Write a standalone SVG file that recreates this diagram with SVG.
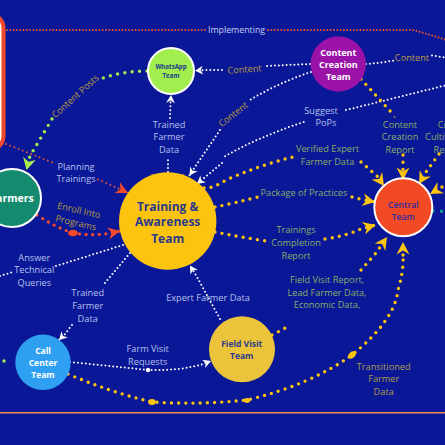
<svg xmlns="http://www.w3.org/2000/svg" width="445" height="445" viewBox="0 0 445 445">
<style>
text{font-family:"Open Sans","Noto Sans","Liberation Sans",sans-serif;text-anchor:middle;dominant-baseline:central;font-size:9.2px}
.lw{fill:#b7c0ee}.lg{fill:#8aad68}.lo{fill:#b89c3e}.lt{fill:#ad9e48}
.n{font-weight:700}
.c{fill:none;stroke-linecap:round}
.w{stroke:#fff;stroke-width:2;stroke-dasharray:0 3.9}
.y{stroke:#fcc40f;stroke-width:3.4;stroke-dasharray:0 7.2}
.rb{stroke:#f4492a;stroke-width:3.3;stroke-dasharray:0 6.6}
.o{stroke:#f4592a;stroke-width:1.9;stroke-dasharray:0 3.3}
.o2{stroke-dasharray:0 4.5}
.g{stroke:#a2ee4e;stroke-width:3.4;stroke-dasharray:0 7.4}
.t{stroke:#0fa28a;stroke-width:3.4;stroke-dasharray:0 8.5}
.mw{marker-end:url(#aw)}.my{marker-end:url(#ay)}.mr{marker-end:url(#ar)}.mg{marker-end:url(#ag)}
</style>
<defs>
<marker id="aw" viewBox="-9 -5 10 10" refX="0" refY="0" markerWidth="10" markerHeight="10" markerUnits="userSpaceOnUse" orient="auto"><path d="M0 0L-8 -4.4L-5.6 0L-8 4.4Z" fill="#fff"/></marker>
<marker id="ay" viewBox="-13 -8 14 16" refX="0" refY="0" markerWidth="14" markerHeight="16" markerUnits="userSpaceOnUse" orient="auto"><path d="M0 0L-12.5 -6.5L-8.5 0L-12.5 6.5Z" fill="#fcc40f"/></marker>
<marker id="ar" viewBox="-13 -8 14 16" refX="0" refY="0" markerWidth="14" markerHeight="16" markerUnits="userSpaceOnUse" orient="auto"><path d="M0 0L-12 -6L-8.5 0L-12 6Z" fill="#f4492a"/></marker>
<marker id="ag" viewBox="-13 -8 14 16" refX="0" refY="0" markerWidth="14" markerHeight="16" markerUnits="userSpaceOnUse" orient="auto"><path d="M0 0L-12 -6.5L-8.5 0L-12 6.5Z" fill="#a2ee4e"/></marker>
</defs>
<rect width="445" height="445" fill="#0a1796"/>
<rect id="panel" x="-120" y="14" width="123.500" height="136" rx="14" fill="#fff" stroke="#f4492a" stroke-width="4"/>
<line x1="0" y1="412.800" x2="445" y2="412.800" stroke="#ee8a4e" stroke-width="1.6"/>
<g id="connectors">
<path class="c o" d="M7 30H207"/>
<path class="c o" d="M268 30H414L445 39.500"/>
<path class="c w" d="M310 64L265 66"/>
<path class="c w mw" d="M222 70H205L195 70.800"/>
<path class="c w" d="M366 64Q380 63 394 60.500"/>
<path class="c w" d="M432 55.500L445 57.500"/>
<path class="c w" d="M311 72Q278 83 250 100"/>
<path class="c w mw" d="M220 130L195 167L189.500 175.500"/>
<path class="c w" d="M346 110L445 85.500"/>
<path class="c w" d="M303.700 122Q258 137 222 158"/>
<path class="c w mw" d="M222 163L203 179L197 184"/>
<path class="c w" d="M168 172V157"/>
<path class="c w mw" d="M170 118L170.500 103L171 95"/>
<path class="c g" d="M147 71Q124 71 103 78"/>
<path class="c g mg" d="M52 119L30 156L26.500 170"/>
<path class="c o o2" d="M6 144L54 163"/>
<path class="c o o2 mr" d="M98 179.500L122 190L128 193"/>
<path class="c rb" d="M37 215Q55 227 73 233"/>
<path class="c rb mr" d="M73 233Q90 236 108 233.500L120 231"/>
<ellipse cx="73" cy="233" rx="5" ry="3.200" fill="#f4492a"/>
<path class="c w" d="M0 276L13 272"/>
<path class="c w" d="M56 266L123 245"/>
<path class="c w" d="M130 253L104 284"/>
<path class="c w mw" d="M72 325L65 334L59 340"/>
<path class="c w mw" d="M220 319L197 277L190 265.500"/>
<path class="c w mw" d="M70 362Q110 366 148 370Q180 371 203 364L211 361"/>
<circle cx="148" cy="370" r="2.200" fill="#fff"/>
<path class="c y" d="M204 188Q212 189 226 180Q260 165 293 157"/>
<path class="c y my" d="M361 162L377 176L384 186"/>
<path class="c y" d="M215 207Q235 203 258 197"/>
<path class="c y my" d="M352 197L360 199L375 202"/>
<path class="c y" d="M215 232Q240 237 266 241"/>
<path class="c y my" d="M325 239Q345 236 361 229L375.500 225"/>
<path class="c y" d="M272 335L291 325"/>
<path class="c y my" d="M361 270L376 253L387 237"/>
<path class="c y" d="M68 374Q110 392 152 402Q200 405 247 400Q310 385 352 355Q395 320 398 290Q404 270 403 255"/>
<path class="c y my" d="M403 255V250L403 242"/>
<ellipse cx="152" cy="402" rx="3.800" ry="3" fill="#fcc40f"/>
<ellipse cx="247" cy="400.500" rx="3.200" ry="2.400" fill="#fcc40f"/>
<ellipse cx="352" cy="355" rx="4" ry="3" fill="#fcc40f" transform="rotate(-40 352 355)"/>
<path class="c y" d="M361 79L391 112"/>
<circle cx="394.500" cy="117" r="0.800" fill="#fcc40f"/>
<path class="c y my" d="M403 155V162.500L403 180"/>
<path class="c y my" d="M439 154L426 172L419 184"/>
<path class="c y my" d="M442 187L430 194"/>
<path class="c t" d="M433 210.700L445 211.500"/>
<path class="c g" d="M4 361L11 362"/>
</g>
<g id="labels">
<text class="lw" x="169" y="124">Trained</text><text class="lw" x="169" y="136.800">Farmer</text><text class="lw" x="169" y="149.500">Data</text>
<text class="lw" x="76" y="166">Planning</text><text class="lw" x="76" y="178.500">Trainings</text>
<text class="lo" transform="translate(79 210) rotate(13)">Enroll Into</text><text class="lo" transform="translate(76 222.500) rotate(13)">Programs</text>
<text class="lo" transform="translate(75 96) rotate(-42)">Content Posts</text>
<text class="lo" transform="translate(244.500 69) rotate(-4)">Content</text>
<text class="lo" transform="translate(233 114) rotate(-38)">Content</text>
<text class="lo" x="412" y="57.700">Content</text>
<text class="lw" x="321" y="110">Suggest</text><text class="lw" x="326" y="122.300">PoPs</text>
<text class="lg" x="327.500" y="148">Verified Expert</text><text class="lg" x="327.500" y="161">Farmer Data</text>
<text class="lg" x="304" y="192">Package of Practices</text>
<text class="lg" x="400" y="124">Content</text><text class="lg" x="400" y="136.500">Creation</text><text class="lg" x="400" y="149">Report</text>
<text class="lg" x="448" y="124">Crop</text><text class="lg" x="448" y="136.500">Cultivation</text><text class="lg" x="448" y="149">Report</text>
<text class="lg" x="296" y="229.700">Trainings</text><text class="lg" x="296" y="242.300">Completion</text><text class="lg" x="296" y="255">Report</text>
<text class="lg" x="327" y="279.300">Field Visit Report,</text><text class="lg" x="327" y="292">Lead Farmer Data,</text><text class="lg" x="327" y="304.500">Economic Data,</text>
<text class="lt" x="383.700" y="366">Transitioned</text><text class="lt" x="383.700" y="378.700">Farmer</text><text class="lt" x="383.700" y="391.500">Data</text>
<text class="lw" x="208" y="297">Expert Farmer Data</text>
<text class="lw" x="147.700" y="348.700">Farm Visit</text><text class="lw" x="147.700" y="361.300">Requests</text>
<text class="lw" x="87.700" y="292.300">Trained</text><text class="lw" x="87.700" y="305">Farmer</text><text class="lw" x="87.700" y="318">Data</text>
<text class="lw" x="34.300" y="257">Answer</text><text class="lw" x="34.300" y="269.700">Technical</text><text class="lw" x="34.300" y="282">Queries</text>
<text x="236.500" y="30" style="fill:#c5ccf2;font-size:8.800px">Implementing</text>
</g>
<g id="whatsapp"><circle cx="171" cy="71" r="23" fill="#a2ee4e" stroke="#fff" stroke-width="2"/><text class="n" x="171" y="66" fill="#1c3a8c" style="font-size:6.100px">WhatsApp</text><text class="n" x="171" y="75.500" fill="#1c3a8c" style="font-size:6.100px">Team</text></g>
<g id="content-creation"><circle cx="338.300" cy="64" r="27.700" fill="#9b12a8"/><text class="n" x="338.300" y="52" fill="#fff" style="font-size:9px">Content</text><text class="n" x="338.300" y="64.500" fill="#fff" style="font-size:9px">Creation</text><text class="n" x="338.300" y="76.500" fill="#fff" style="font-size:9px">Team</text></g>
<g id="central"><circle cx="403.300" cy="207.300" r="29" fill="#f34a26" stroke="#fff" stroke-width="2"/><text x="403.300" y="204.500" fill="#2c2a9c" style="font-size:8.700px;font-weight:600">Central</text><text x="403.300" y="216.700" fill="#2c2a9c" style="font-size:8.700px;font-weight:600">Team</text></g>
<g id="training"><circle cx="167.700" cy="221" r="48.700" fill="#fcc40f"/><text class="n" x="167.700" y="206" fill="#2c3a8c" style="font-size:12px">Training &amp;</text><text class="n" x="167.700" y="221.700" fill="#2c3a8c" style="font-size:12px">Awareness</text><text class="n" x="167.700" y="238.300" fill="#2c3a8c" style="font-size:12px">Team</text></g>
<g id="farmers"><circle cx="12" cy="198" r="29" fill="#148a6e" stroke="#fff" stroke-width="2"/><text class="n" x="12" y="198" fill="#fff" style="font-size:10.500px">Farmers</text></g>
<g id="call-center"><circle cx="43" cy="362.300" r="27.700" fill="#2f9ff2"/><text class="n" x="43" y="350" fill="#fff" style="font-size:8.500px">Call</text><text class="n" x="43" y="362.700" fill="#fff" style="font-size:8.500px">Center</text><text class="n" x="43" y="374.700" fill="#fff" style="font-size:8.500px">Team</text></g>
<g id="field-visit"><circle cx="242" cy="349.300" r="33" fill="#ecc43c"/><text class="n" x="241.700" y="343.700" fill="#2c3a8c" style="font-size:8.500px">Field Visit</text><text class="n" x="241.700" y="355.700" fill="#2c3a8c" style="font-size:8.500px">Team</text></g>
</svg>
